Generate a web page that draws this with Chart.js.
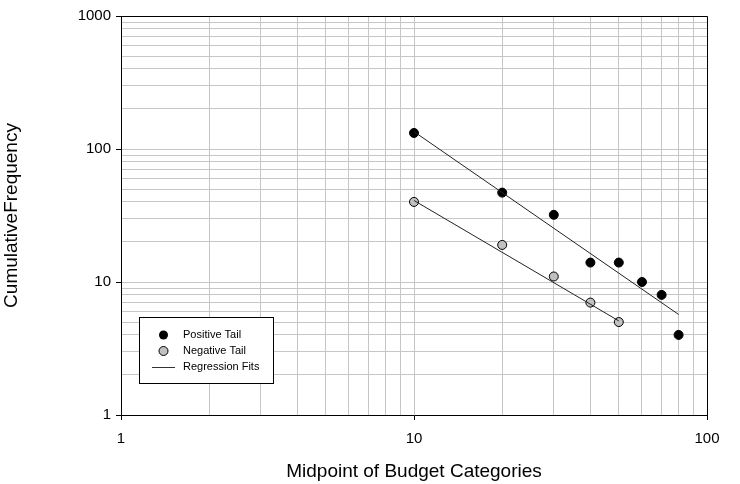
<!DOCTYPE html>
<html>
<head>
<meta charset="utf-8">
<script src="https://cdn.jsdelivr.net/npm/chart.js@4"></script>
<style>
  html, body { margin: 0; padding: 0; background: #fff; }
  #chart { display: block; }
</style>
</head>
<body>
<canvas id="chart" width="740" height="484"></canvas>
<script>
// data
const posX = [10, 20, 30, 40, 50, 60, 70, 80];
const posY = [132, 47, 32, 14, 14, 10, 8, 4];
const negX = [10, 20, 30, 40, 50];
const negY = [40, 19, 11, 7, 5];
// regression fit end points
const posFitX = [10, 80];
const posFitY = [135, 5.7];
const negFitX = [10, 50];
const negFitY = [41, 5.1];

// axis decades (labels) - minor grid at 2..9 of each decade
const xDecades = [1, 10, 100];
const yDecades = [1, 10, 100, 1000];
const legendLabels = ['Positive Tail', 'Negative Tail', 'Regression Fits'];

const FONT = '"Liberation Sans", Arial, sans-serif';
const GRID = '#c6c6c6';

function toPoints(xs, ys) {
    return xs.map((x, i) => ({ x: x, y: ys[i] }));
}

function logTicks(decades) {
    const vals = [];
    decades.forEach((d, i) => {
        vals.push(d);
        if (i < decades.length - 1) {
            for (let m = 2; m <= 9; m++) vals.push(d * m);
        }
    });
    return vals;
}

function isDecade(v, decades) {
    return decades.some(d => Math.abs(d - v) < 1e-9);
}

function scaleOpts(decades, isX) {
    return {
        type: 'logarithmic',
        min: decades[0],
        max: decades[decades.length - 1],
        afterBuildTicks: s => {
            s.ticks = logTicks(decades).map(v => ({ value: v, major: isDecade(v, decades) }));
        },
        afterFit: s => {
            if (isX) s.height = 69; else s.width = 121;
        },
        ticks: {
            autoSkip: false,
            maxRotation: 0,
            padding: isX ? 10 : 5,
            color: '#000',
            font: { family: FONT, size: 15 },
            callback: v => isDecade(v, decades) ? String(v) : ''
        },
        grid: {
            color: GRID,
            lineWidth: 1,
            tickLength: 5,
            tickColor: c => (c.tick && isDecade(c.tick.value, decades)) ? '#000' : 'rgba(0,0,0,0)'
        },
        border: { display: true, color: '#000', width: 1 },
        title: {
            display: true,
            text: isX ? 'Midpoint of Budget Categories' : 'CumulativeFrequency',
            color: '#000',
            font: { family: FONT, size: 19 },
            padding: { top: 0, bottom: 1 }
        }
    };
}

// box around plot area + the legend inside it
const framePlugin = {
    id: 'frame',
    afterDraw(chart) {
        const ctx = chart.ctx;
        const a = chart.chartArea;
        ctx.save();
        ctx.strokeStyle = '#000';
        ctx.lineWidth = 1;
        ctx.beginPath();
        ctx.moveTo(a.left, a.top + 0.5);
        ctx.lineTo(a.right + 0.5, a.top + 0.5);
        ctx.lineTo(a.right + 0.5, a.bottom);
        ctx.stroke();

        // legend
        ctx.fillStyle = '#fff';
        ctx.fillRect(139.5, 317.5, 134, 66);
        ctx.strokeRect(139.5, 317.5, 134, 66);
        ctx.font = '11px ' + FONT;
        ctx.textBaseline = 'middle';
        const rows = [335, 351, 367];
        ctx.beginPath();
        ctx.arc(163.5, rows[0], 4.5, 0, Math.PI * 2);
        ctx.fillStyle = '#000';
        ctx.fill();
        ctx.beginPath();
        ctx.arc(163.5, rows[1], 4.5, 0, Math.PI * 2);
        ctx.fillStyle = '#c0c0c0';
        ctx.fill();
        ctx.stroke();
        ctx.beginPath();
        ctx.moveTo(152, rows[2] + 0.5);
        ctx.lineTo(175, rows[2] + 0.5);
        ctx.strokeStyle = '#333';
        ctx.stroke();
        ctx.fillStyle = '#000';
        legendLabels.forEach((t, i) => ctx.fillText(t, 183, rows[i]));
        ctx.restore();
    }
};

new Chart(document.getElementById('chart'), {
    type: 'scatter',
    data: {
        datasets: [
            {
                label: 'Positive Fit',
                data: toPoints(posFitX, posFitY),
                showLine: true,
                borderColor: '#222',
                borderWidth: 1,
                pointRadius: 0,
                fill: false
            },
            {
                label: 'Negative Fit',
                data: toPoints(negFitX, negFitY),
                showLine: true,
                borderColor: '#222',
                borderWidth: 1,
                pointRadius: 0,
                fill: false
            },
            {
                label: 'Positive Tail',
                data: toPoints(posX, posY),
                pointRadius: 4.5,
                pointBackgroundColor: '#000',
                pointBorderColor: '#000',
                pointBorderWidth: 1
            },
            {
                label: 'Negative Tail',
                data: toPoints(negX, negY),
                pointRadius: 4.5,
                pointBackgroundColor: '#c0c0c0',
                pointBorderColor: '#000',
                pointBorderWidth: 1
            }
        ]
    },
    options: {
        responsive: false,
        animation: false,
        devicePixelRatio: 1,
        layout: { padding: { top: 16, right: 33, left: 0, bottom: 0 } },
        plugins: {
            legend: { display: false },
            tooltip: { enabled: false }
        },
        scales: {
            x: scaleOpts(xDecades, true),
            y: scaleOpts(yDecades, false)
        }
    },
    plugins: [framePlugin]
});
</script>
</body>
</html>
